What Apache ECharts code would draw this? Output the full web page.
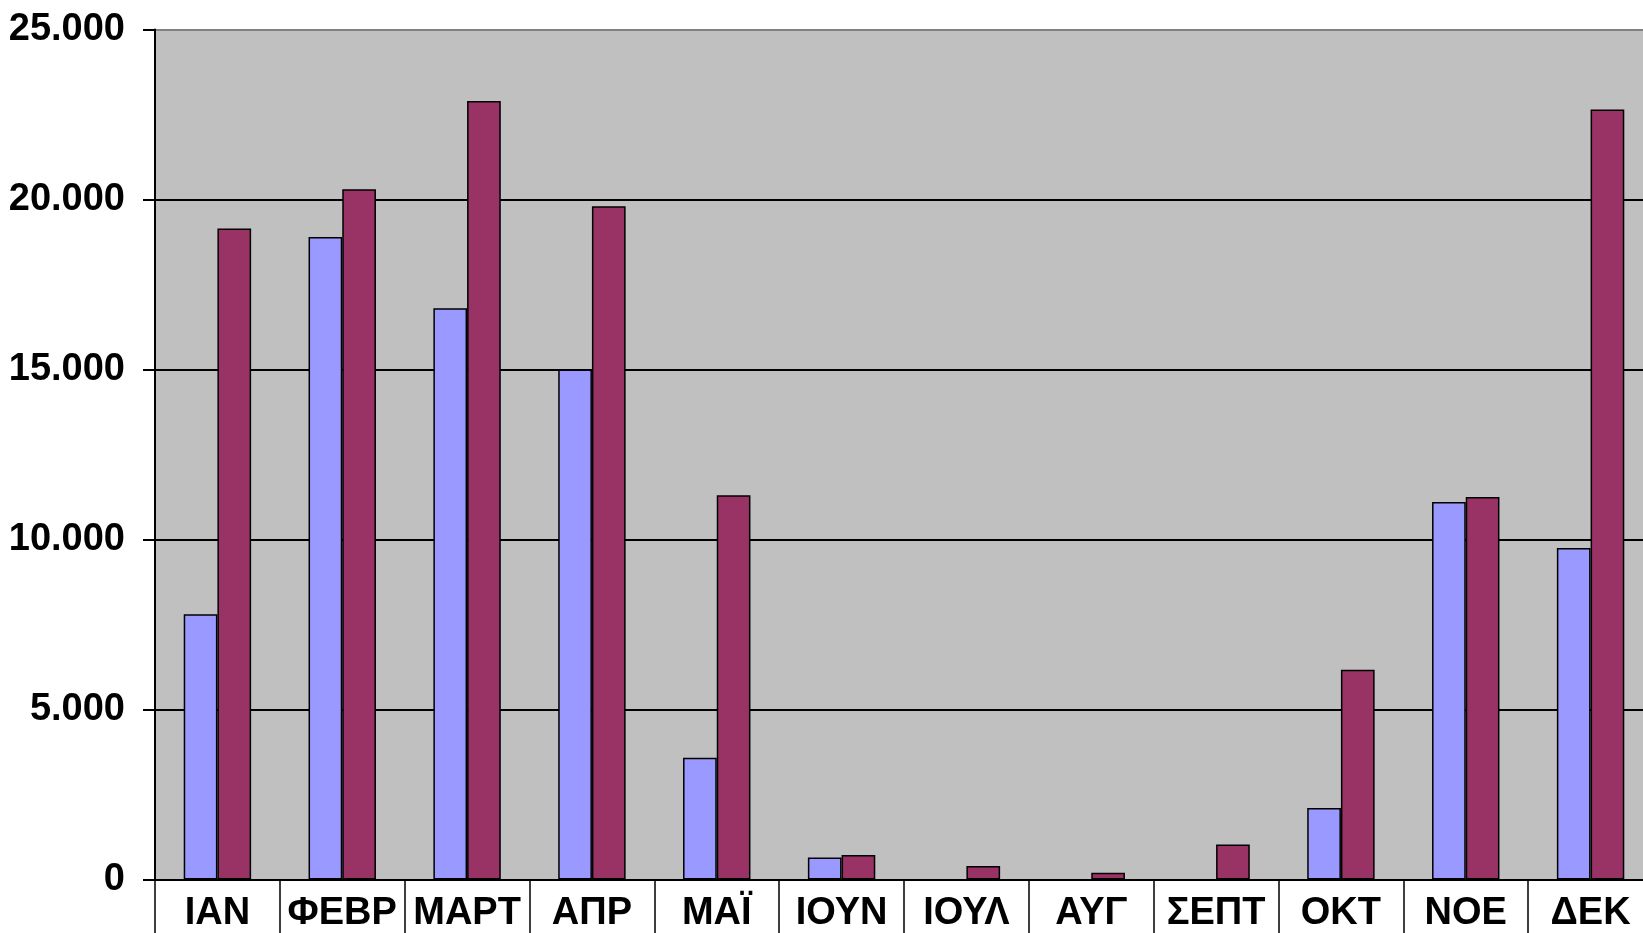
<!DOCTYPE html>
<html>
<head>
<meta charset="utf-8">
<script src="https://cdn.jsdelivr.net/npm/echarts@6/dist/echarts.min.js"></script>
<style>
html,body{margin:0;padding:0;background:#fff;overflow:hidden;}
#chart{width:1643px;height:933px;}
</style>
</head>
<body>
<div id="chart"></div>
<script>
const categories = ['ΙΑΝ','ΦΕΒΡ','ΜΑΡΤ','ΑΠΡ','ΜΑΪ','ΙΟΥΝ','ΙΟΥΛ','ΑΥΓ','ΣΕΠΤ','ΟΚΤ','ΝΟΕ','ΔΕΚ'];
// null = no bar shown in the reference
const seriesA = [7800, 18900, 16800, 15000, 3580, 650, null, null, null, 2100, 11100, 9750];
const seriesB = [19150, 20300, 22900, 19800, 11300, 720, 400, 200, 1030, 6170, 11250, 22650];
const yTicks = [0, 5000, 10000, 15000, 20000, 25000];

const FONT = '"Liberation Sans", Arial, sans-serif';
const chart = echarts.init(document.getElementById('chart'));
chart.setOption({
  animation: false,
  grid: {
    left: 155, top: 29.5, bottom: 53.5, width: 1498,
    containLabel: false, outerBoundsMode: 'none',
    show: true, backgroundColor: '#c0c0c0', borderColor: '#808080', borderWidth: 1
  },
  xAxis: {
    type: 'category',
    data: categories,
    axisLine: { lineStyle: { color: '#000', width: 2 } },
    axisTick: { show: true, length: 60, lineStyle: { color: '#000', width: 1.5 } },
    axisLabel: {
      margin: 15, color: '#000', fontSize: 38, lineHeight: 38, fontWeight: 'bold', fontFamily: FONT,
      interval: 0
    },
    splitLine: { show: false }
  },
  yAxis: {
    type: 'value',
    min: yTicks[0], max: yTicks[yTicks.length - 1], interval: 5000,
    axisLine: { show: true, lineStyle: { color: '#000', width: 2 } },
    axisTick: { show: true, length: 12, lineStyle: { color: '#000', width: 2 } },
    axisLabel: {
      margin: 30, color: '#000', fontSize: 38, fontWeight: 'bold', fontFamily: FONT,
      formatter: v => v === 0 ? '0' : String(v).replace(/\B(?=(\d{3})+(?!\d))/g, '.')
    },
    splitLine: { show: true, lineStyle: { color: ['#000', '#000', '#000', '#000', '#000', '#808080'], width: 2 } }
  },
  series: [
    {
      type: 'bar', data: seriesA, barGap: '0%', barCategoryGap: '46%',
      itemStyle: { color: '#9999ff', borderColor: '#000', borderWidth: 1.5 }
    },
    {
      type: 'bar', data: seriesB, barGap: '0%', barCategoryGap: '46%',
      itemStyle: { color: '#993366', borderColor: '#000', borderWidth: 1.5 }
    }
  ]
});
</script>
</body>
</html>
